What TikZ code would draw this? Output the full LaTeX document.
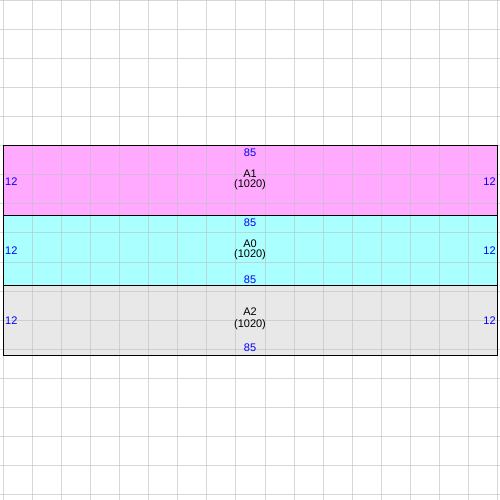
\documentclass[tikz,border=0pt]{standalone}
\usepackage{fontspec}
\setmainfont{Liberation Sans}
\definecolor{bandpink}{RGB}{255,170,255}
\definecolor{bandcyan}{RGB}{170,255,255}
\definecolor{bandgray}{RGB}{232,232,232}
\definecolor{dimblue}{RGB}{0,0,255}
\begin{document}
\begin{tikzpicture}[x=1pt,y=-1pt,
  band/.style={draw=black, line width=1pt, minimum width=494pt, minimum height=70pt, inner sep=0pt, outer sep=0pt},
  dimlab/.style={text=dimblue, font=\fontsize{11}{12}\selectfont, inner sep=0pt},
  namelab/.style={text=black, font=\fontsize{11}{12}\selectfont, inner sep=0pt},
  gridline/.style={draw=black!25, opacity=0.6, line width=1pt}]
\useasboundingbox (0,0) rectangle (500,500);
\fill[white] (0,0) rectangle (500,500);
% bands
\node[band, fill=bandpink] (a1) at (250,180) {};
\node[band, fill=bandcyan] (a0) at (250,250) {};
\node[band, fill=bandgray] (a2) at (250,320) {};
% grid
\foreach \k in {0,...,17} {
  \draw[gridline] ({3.3+29.08*\k},0) -- ({3.3+29.08*\k},500);
  \draw[gridline] (0,{0.3+29.08*\k}) -- (500,{0.3+29.08*\k});
}
% borders redrawn on top
\draw[line width=1pt] (a1.north west) rectangle (a1.south east);
\draw[line width=1pt] (a0.north west) rectangle (a0.south east);
\draw[line width=1pt] (a2.north west) rectangle (a2.south east);
% A1
\node[dimlab] (a1top) at (250,152.3) {85};
\node[namelab] (a1name) at (250,173.3) {A1};
\node[namelab] (a1len) at (250,185) {(1020)};
\node[dimlab] (a1l) at (11.3,181.5) {12};
\node[dimlab] (a1r) at (489.5,181.5) {12};
% A0
\node[dimlab] (a0top) at (250,222.3) {85};
\node[namelab] (a0name) at (250,243.3) {A0};
\node[namelab] (a0len) at (250,255) {(1020)};
\node[dimlab] (a0bot) at (250,279.3) {85};
\node[dimlab] (a0l) at (11.3,250.5) {12};
\node[dimlab] (a0r) at (489.5,250.5) {12};
% A2
\node[namelab] (a2name) at (250,312) {A2};
\node[namelab] (a2len) at (250,325) {(1020)};
\node[dimlab] (a2bot) at (250,348) {85};
\node[dimlab] (a2l) at (11.3,320.5) {12};
\node[dimlab] (a2r) at (489.5,320.5) {12};
\end{tikzpicture}
\end{document}
